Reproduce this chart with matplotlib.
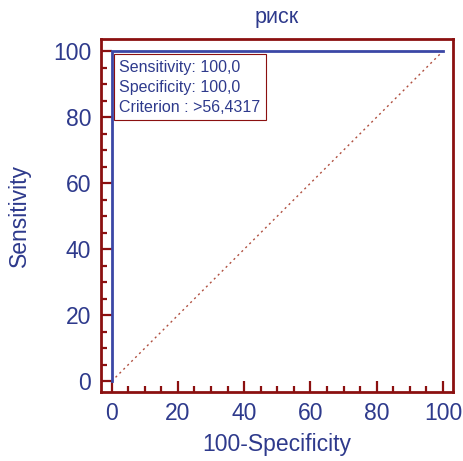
import matplotlib
matplotlib.use('Agg')
import matplotlib.pyplot as plt
from matplotlib.ticker import MultipleLocator

# ROC curve points (100-Specificity, Sensitivity)
roc_x = [0, 0, 100]
roc_y = [0, 100, 100]
diag_x = [0, 100]
diag_y = [0, 100]

title = 'риск'
xlabel = '100-Specificity'
ylabel = 'Sensitivity'
info_lines = ['Sensitivity: 100,0', 'Specificity: 100,0', 'Criterion : >56,4317']

red = '#8B1010'
blue = '#2E3A8C'
line_blue = '#3B47A6'

plt.rcParams['font.family'] = ['Liberation Sans', 'DejaVu Sans']

fig = plt.figure(figsize=(4.64, 4.61), dpi=100)
ax = fig.add_axes([0.2177, 0.150, 0.7585, 0.765])

ax.plot(diag_x, diag_y, linestyle=(0, (1.5, 2.5)), color='#B05040', linewidth=1.0)
ax.plot(roc_x, roc_y, color=line_blue, linewidth=2.0, solid_joinstyle='miter')

ax.set_xlim(-3.2, 103.0)
ax.set_ylim(-3.2, 103.6)
ax.xaxis.set_major_locator(MultipleLocator(20))
ax.xaxis.set_minor_locator(MultipleLocator(5))
ax.yaxis.set_major_locator(MultipleLocator(20))
ax.yaxis.set_minor_locator(MultipleLocator(5))

for s in ax.spines.values():
    s.set_color(red)
    s.set_linewidth(2.0)
ax.tick_params(which='both', direction='in', color=red, width=1.6,
               labelcolor=blue, labelsize=16.5)
ax.tick_params(which='major', length=8, pad=7)
ax.tick_params(which='minor', length=4)

ax.set_xlabel(xlabel, color=blue, fontsize=16.5, labelpad=6)
ax.set_ylabel(ylabel, color=blue, fontsize=16.5, labelpad=16)
ax.set_title(title, color=blue, fontsize=15.5, pad=12)

ax.text(2.3, 97.3, '\n'.join(info_lines), color=blue, fontsize=11.5,
        ha='left', va='top', linespacing=1.4,
        bbox=dict(boxstyle='square,pad=0.35', facecolor='white',
                  edgecolor=red, linewidth=0.8))

fig.savefig('out.png', dpi=100)
